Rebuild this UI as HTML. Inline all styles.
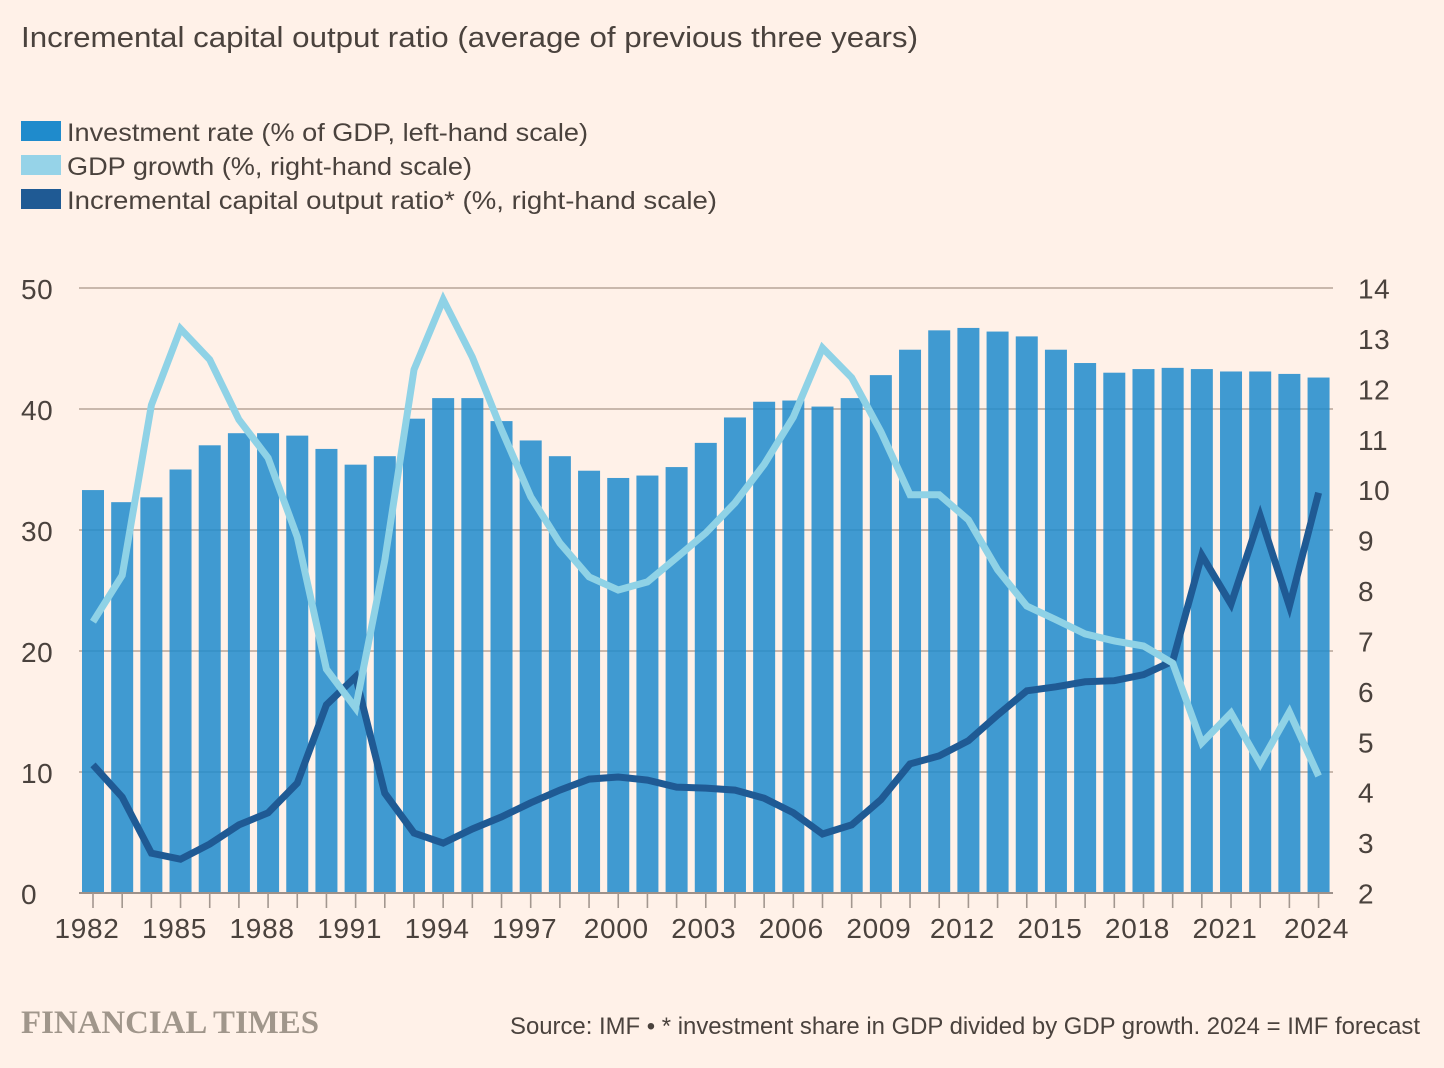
<!DOCTYPE html>
<html lang="en">
<head>
<meta charset="utf-8">
<title>Incremental capital output ratio</title>
<style>
html,body{margin:0;padding:0;background:#fff1e8;}
#chart{display:block;width:1444px;height:1068px;background:#fff1e8;}
text{font-family:"Liberation Sans",sans-serif;fill:#4a423d;}
</style>
</head>
<body>
<svg id="chart" xmlns="http://www.w3.org/2000/svg" width="1444" height="1068" viewBox="0 0 1444 1068">
  <text x="21" y="47" font-size="29" textLength="897" lengthAdjust="spacingAndGlyphs">Incremental capital output ratio (average of previous three years)</text>

  <g>
    <rect x="21" y="121" width="40" height="20" fill="#1f8bcc"></rect>
    <text x="67" y="141" font-size="25" textLength="521" lengthAdjust="spacingAndGlyphs">Investment rate (% of GDP, left-hand scale)</text>
    <rect x="21" y="155" width="40" height="20" fill="#96d3e8"></rect>
    <text x="67" y="175" font-size="25" textLength="405" lengthAdjust="spacingAndGlyphs">GDP growth (%, right-hand scale)</text>
    <rect x="21" y="189" width="40" height="20" fill="#1f5a94"></rect>
    <text x="67" y="209" font-size="25" textLength="650" lengthAdjust="spacingAndGlyphs">Incremental capital output ratio* (%, right-hand scale)</text>
  </g>

  <g id="grid"></g>
  <g id="bars"></g>
  <g id="axes"></g>
  <g id="lines"></g>
  <g id="labels"></g>

  <text x="21" y="1033" font-size="33" font-weight="700" textLength="298" lengthAdjust="spacingAndGlyphs" style="font-family:'Liberation Serif',serif;fill:#a0968b">FINANCIAL TIMES</text>
  <text x="510" y="1034" font-size="24" textLength="910" lengthAdjust="spacingAndGlyphs">Source: IMF • * investment share in GDP divided by GDP growth. 2024 = IMF forecast</text>
</svg>

<script>
const firstYear = 1982;
const investmentRate = [33.3,32.3,32.7,35,37,38,38,37.8,36.7,35.4,36.1,39.2,40.9,40.9,39,37.4,36.1,34.9,34.3,34.5,35.2,37.2,39.3,40.6,40.7,40.2,40.9,42.8,44.9,46.5,46.7,46.4,46,44.9,43.8,43,43.3,43.4,43.3,43.1,43.1,42.9,42.6];
const gdpGrowth = [7.38,8.3,11.68,13.19,12.58,11.39,10.63,9.06,6.44,5.67,8.6,12.38,13.77,12.63,11.19,9.86,8.94,8.27,8.01,8.17,8.65,9.14,9.74,10.5,11.44,12.81,12.22,11.15,9.9,9.9,9.4,8.41,7.69,7.42,7.14,7,6.9,6.56,4.98,5.57,4.56,5.59,4.32];
const icor = [4.54,3.9,2.79,2.67,2.97,3.35,3.59,4.18,5.73,6.29,3.98,3.19,2.99,3.27,3.51,3.79,4.04,4.26,4.3,4.24,4.1,4.08,4.04,3.88,3.59,3.17,3.35,3.85,4.56,4.72,5.02,5.53,6.01,6.09,6.19,6.21,6.33,6.6,8.7,7.73,9.48,7.69,9.94];
const leftTicks = [0,10,20,30,40,50];
const rightTicks = [2,3,4,5,6,7,8,9,10,11,12,13,14];
const xTickLabels = [1982,1985,1988,1991,1994,1997,2000,2003,2006,2009,2012,2015,2018,2021,2024];

const NS = 'http://www.w3.org/2000/svg';
const plotBottom = 893, plotTop = 288, axisLeft = 79, axisRight = 1333;
const xFirst = 93, xStep = 29.18;

function xScale(i){ return xFirst + i * xStep; }
function yLeft(v){ return plotBottom - (v / 50) * (plotBottom - plotTop); }
function yRight(v){ return plotBottom - ((v - 2) / 12) * (plotBottom - plotTop); }
function labelShift(year){
  if (year === 2024 || (year >= 2000 && year <= 2009)) return -2;
  return -6;
}
function make(tag, parent, attrs){
  const el = document.createElementNS(NS, tag);
  for (const k in attrs) el.setAttribute(k, attrs[k]);
  parent.appendChild(el);
  return el;
}

const gridG = document.getElementById('grid');
const barsG = document.getElementById('bars');
const axesG = document.getElementById('axes');
const linesG = document.getElementById('lines');
const labelsG = document.getElementById('labels');

leftTicks.forEach(function(t){
  if (t === 0) return;
  const g = make('line', gridG, {x1:axisLeft, x2:axisRight, y1:yLeft(t), y2:yLeft(t), stroke:'#c9b8ac', 'stroke-width':2});
  
  
});

investmentRate.forEach(function(v, i){
  const y = yLeft(v);
  const b = make('rect', barsG, {x:xScale(i) - 11, y:y, width:22, height:plotBottom - y, fill:'#1f8bcc', 'fill-opacity':0.85});
  
  
});

const axisLine = make('line', axesG, {x1:axisLeft, x2:axisRight, y1:plotBottom, y2:plotBottom, stroke:'#9d918a', 'stroke-width':2});


investmentRate.forEach(function(v, i){
  const t = make('line', axesG, {x1:xScale(i), x2:xScale(i), y1:plotBottom, y2:908, stroke:'#a3978f', 'stroke-width':1.6});
  
  
});

function pointsFor(series){
  return series.map(function(v, i){ return xScale(i).toFixed(1) + ',' + yRight(v).toFixed(1); }).join(' ');
}
const icorLine = make('polyline', linesG, {points:pointsFor(icor), fill:'none', stroke:'#1f5a94', 'stroke-width':7, 'stroke-linejoin':'miter', 'stroke-miterlimit':6});


const gdpLine = make('polyline', linesG, {points:pointsFor(gdpGrowth), fill:'none', stroke:'#8fd2e6', 'stroke-width':7, 'stroke-linejoin':'miter', 'stroke-miterlimit':6});



leftTicks.forEach(function(t){
  const l = make('text', labelsG, {x:21, y:yLeft(t) + 11, 'font-size':28, 'letter-spacing':0.5});
  l.textContent = String(t);
  
  
});
rightTicks.forEach(function(t){
  const l = make('text', labelsG, {x:1358, y:yRight(t) + 10.5, 'font-size':28, 'letter-spacing':0.5});
  l.textContent = String(t);
  
  
});
xTickLabels.forEach(function(year){
  const l = make('text', labelsG, {x:xScale(year - firstYear) + labelShift(year), y:938, 'font-size':28, 'text-anchor':'middle', 'letter-spacing':0.7});
  l.textContent = String(year);
  
  
});
</script>
</body>
</html>
